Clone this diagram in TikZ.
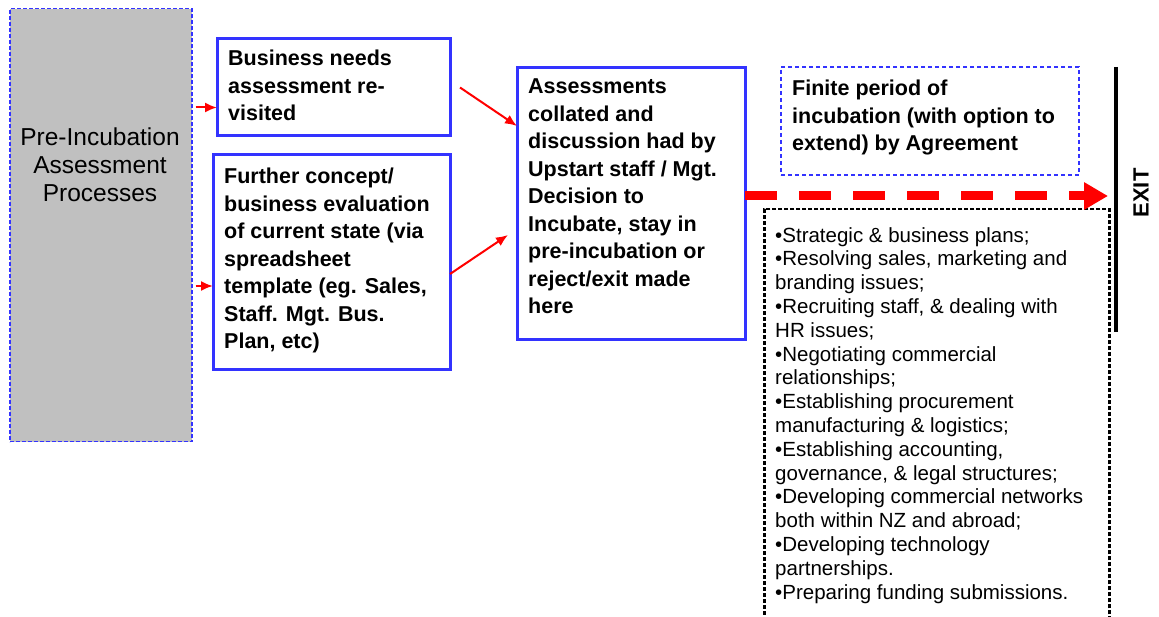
\documentclass[tikz,border=0pt]{standalone}
\usepackage{fontspec}
\setmainfont{Liberation Sans}
\usetikzlibrary{arrows.meta}
\usetikzlibrary{calc}
\definecolor{boxblue}{RGB}{51,51,255}
\definecolor{pregray}{RGB}{192,192,192}
\definecolor{arrowred}{RGB}{255,0,0}

\begin{document}
\begin{tikzpicture}[x=1pt, y=1pt,
  bluebox/.style={draw=boxblue, line width=3pt, anchor=north west, inner sep=0pt, outer sep=0pt},
  boxtext/.style={font=\bfseries\fontsize{21.5}{27.5}\selectfont, align=left, anchor=north west, inner sep=0pt},
  redarrow/.style={-{Latex[length=12pt,width=10pt]}, draw=arrowred, line width=2pt},
  ]
\useasboundingbox (0,0) rectangle (1159,616);
% left column
\node[draw=boxblue, fill=pregray, dash pattern=on 4pt off 2pt, line width=1.5pt, anchor=north west,
  minimum width=182pt, minimum height=433pt, inner sep=0pt] (pre) at (9,608) {};
\node[font=\fontsize{24.5}{28}\selectfont, align=center] (pretxt) at (100,451) {Pre-Incubation\\Assessment\\Processes};
% assessment boxes
\node[bluebox, minimum width=233pt, minimum height=97pt] (biz) at (217,577) {};
\node[boxtext] (biztxt) at ($(biz.north west)+(11,-11)$) {Business needs\\assessment re-\\visited};
\node[bluebox, minimum width=237pt, minimum height=215pt] (further) at (213,461) {};
\node[boxtext] (furthertxt) at ($(further.north west)+(11,-13)$) {Further concept/\\business evaluation\\of current state (via\\spreadsheet\\template (eg. Sales,\\Staff. Mgt. Bus.\\Plan, etc)};
\node[bluebox, minimum width=228pt, minimum height=272pt] (assess) at (517,548) {};
\node[boxtext] (assesstxt) at ($(assess.north west)+(11,-11)$) {Assessments\\collated and\\discussion had by\\Upstart staff / Mgt.\\Decision to\\Incubate, stay in\\pre-incubation or\\reject/exit made\\here};
% incubation
\node[bluebox, line width=2.5pt, dash pattern=on 4pt off 3pt, minimum width=298pt, minimum height=108pt] (finite) at (781,549) {};
\node[boxtext] (finitetxt) at ($(finite.north west)+(11,-13)$) {Finite period of\\incubation (with option to\\extend) by Agreement};
\node[draw=black, line width=2.5pt, dash pattern=on 4pt off 2pt, anchor=north west, inner sep=0pt,
  minimum width=345pt, minimum height=420pt] (tasks) at (763,408) {};
\node[font=\fontsize{20.5}{23.8}\selectfont, align=left, anchor=north west, inner sep=0pt] (taskstxt) at ($(tasks.north west)+(12,-19)$)
  {•Strategic \& business plans;\\
   •Resolving sales, marketing and\\branding issues;\\
   •Recruiting staff, \& dealing with\\HR issues;\\
   •Negotiating commercial\\relationships;\\
   •Establishing procurement\\manufacturing \& logistics;\\
   •Establishing accounting,\\governance, \& legal structures;\\
   •Developing commercial networks\\both within NZ and abroad;\\
   •Developing technology\\partnerships.\\
   •Preparing funding submissions.};
% exit
\coordinate (bartop) at (1116,549);
\coordinate (barbot) at (1116,284);
\draw[line width=4pt] (bartop) -- (barbot);
\node[font=\bfseries\fontsize{22}{26}\selectfont, rotate=90] (exit) at (1141,423) {EXIT};
% connectors
\draw[redarrow] ($(pre.east |- biz.west)+(3,-20)$) -- ([yshift=-20pt]biz.west);
\draw[redarrow] ($(pre.east |- further.west)+(3,-23.5)$) -- ([yshift=-23.5pt]further.west);
\draw[redarrow] ([xshift=10pt]biz.east) -- ([yshift=78pt]assess.west);
\draw[redarrow] ([yshift=-11.5pt]further.east) -- ($(assess.west)+(-9,-31)$);
\draw[draw=arrowred, line width=9pt, dash pattern=on 32pt off 22pt, -{Triangle[length=24pt,width=26pt]}]
  ([yshift=8pt]assess.east) -- ($(assess.east -| bartop)+(-8,8)$);
\end{tikzpicture}
\end{document}
